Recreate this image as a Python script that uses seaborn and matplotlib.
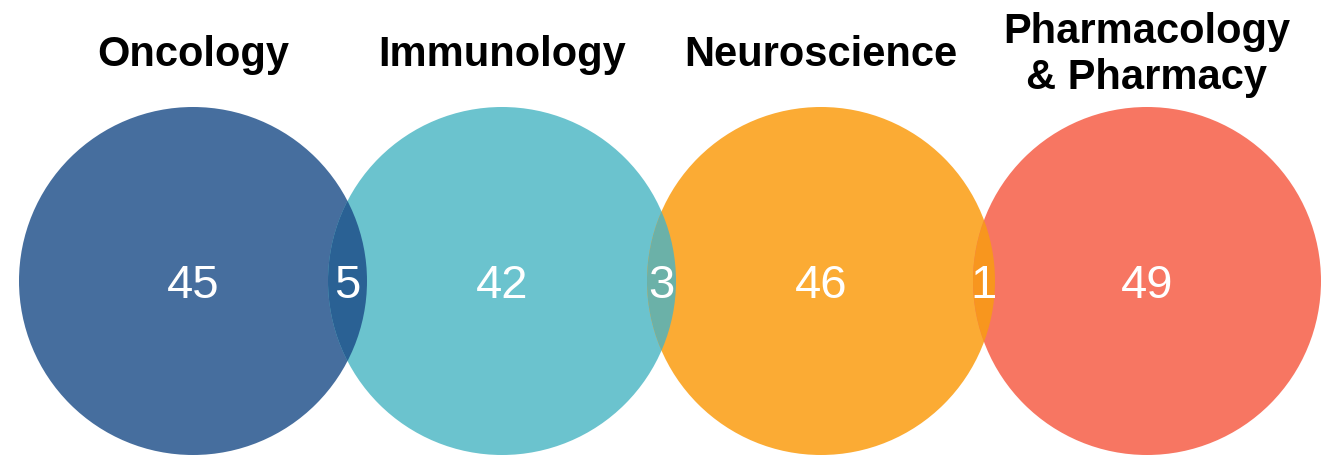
import matplotlib
matplotlib.use('Agg')
import matplotlib.pyplot as plt
from matplotlib.patches import Circle
import seaborn as sns

# Data
fields = ['Oncology', 'Immunology', 'Neuroscience', 'Pharmacology\n& Pharmacy']
only_counts = [45, 42, 46, 49]
overlap_counts = [5, 3, 1]   # between neighbouring fields

colors = ['#466e9e', '#6bc3ce', '#fbab34', '#f77662']
overlap_colors = ['#2a6194', '#6bb1a8', '#f8961e']

sns.set_theme(style='white')
plt.rcParams['font.family'] = ['Liberation Sans', 'DejaVu Sans']
palette = sns.color_palette(colors)
lens_palette = sns.color_palette(overlap_colors)

# Layout (pixel coordinates)
W, H = 1329, 455
radius = 174
centers_x = [193, 502, 821, 1147]
center_y = 281

fig = plt.figure(figsize=(W / 100, H / 100), dpi=100)
ax = fig.add_axes([0, 0, 1, 1])
ax.set_xlim(0, W)
ax.set_ylim(H, 0)
ax.set_aspect('equal')
ax.axis('off')

circles = []
for cx, col in zip(centers_x, palette):
    c = Circle((cx, center_y), radius, facecolor=col, edgecolor='none', zorder=1)
    ax.add_patch(c)
    circles.append(c)

# overlap lenses: right circle clipped by left circle
for i, col in enumerate(lens_palette):
    lens = Circle((centers_x[i + 1], center_y), radius, facecolor=col,
                  edgecolor='none', zorder=2)
    ax.add_patch(lens)
    lens.set_clip_path(circles[i])

# counts
for cx, n in zip(centers_x, only_counts):
    ax.text(cx, center_y + 5, str(n), color='white', fontsize=34,
            ha='center', va='center', zorder=3)
for i, n in enumerate(overlap_counts):
    left_edge = centers_x[i + 1] - radius
    right_edge = centers_x[i] + radius
    ax.text((left_edge + right_edge) / 2, center_y + 5, str(n), color='white',
            fontsize=34, ha='center', va='center', zorder=3)

# titles
for cx, name in zip(centers_x, fields):
    ax.text(cx, 55, name, color='black', fontsize=30, fontweight='bold',
            ha='center', va='center', linespacing=1.17, zorder=3)

fig.savefig('out.png', dpi=100)
